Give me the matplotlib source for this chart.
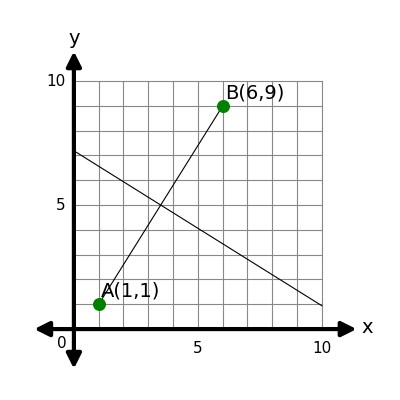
import matplotlib
matplotlib.use("Agg")
import matplotlib.pyplot as plt

# points and the second line (perpendicular bisector of AB)
point_names = ["A", "B"]
point_x = [1, 6]
point_y = [1, 9]
bisector_x = [0, 10]
bisector_y = [7.19, 0.94]
tick_values = [5, 10]

fig = plt.figure(figsize=(4, 4), dpi=100)
ax = fig.add_axes([0, 0, 1, 1])
ax.set_xlim(-2.98, 13.15)
ax.set_ylim(-2.86, 13.27)
ax.axis("off")

# grid
for v in range(11):
    ax.plot([v, v], [0, 10], color="#888888", lw=0.8, zorder=1)
    ax.plot([0, 10], [v, v], color="#888888", lw=0.8, zorder=1)

# axes with arrows at both ends
arrow = dict(arrowstyle="<|-|>", color="black", lw=3, mutation_scale=22, shrinkA=0, shrinkB=0)
ax.annotate("", xy=(11.4, 0), xytext=(-1.6, 0), arrowprops=arrow, zorder=3)
ax.annotate("", xy=(0, 11.2), xytext=(0, -1.6), arrowprops=arrow, zorder=3)

ax.text(11.6, 0.05, "x", fontsize=14, va="center", ha="left")
ax.text(0, 11.7, "y", fontsize=14, va="center", ha="center")
ax.text(-0.5, -0.6, "0", fontsize=11, ha="center", va="center")
for t in tick_values:
    ax.text(t, -0.8, str(t), fontsize=11, ha="center", va="center")
    ax.text(-0.35, t, str(t), fontsize=11, ha="right", va="center")

ax.plot(point_x, point_y, color="black", lw=0.8, zorder=2)
ax.plot(bisector_x, bisector_y, color="black", lw=0.8, zorder=2)
ax.scatter(point_x, point_y, s=70, color="green", zorder=4)
for name, px, py in zip(point_names, point_x, point_y):
    ax.text(px + 0.1, py + 0.15, f"{name}({px},{py})", fontsize=14, ha="left", va="bottom", zorder=5)

fig.savefig("out.png", dpi=100)
